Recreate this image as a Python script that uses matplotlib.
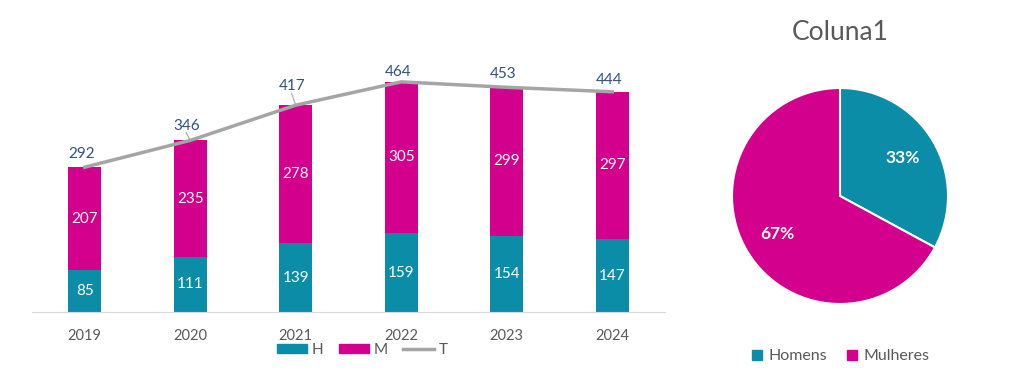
import matplotlib
matplotlib.use("Agg")
import matplotlib.pyplot as plt
from matplotlib.lines import Line2D
from matplotlib.patches import Patch

years = ["2019", "2020", "2021", "2022", "2023", "2024"]
homens = [85, 111, 139, 159, 154, 147]
mulheres = [207, 235, 278, 305, 299, 297]
totais = [292, 346, 417, 464, 453, 444]
pie_labels = ["Homens", "Mulheres"]
pie_title = "Coluna1"

TEAL = "#0B8CA7"
MAGENTA = "#D3008E"
GRAY_LINE = "#A5A5A5"
TEXT_GRAY = "#595959"
TOTAL_BLUE = "#2F5280"

plt.rcParams["font.family"] = ["Lato", "DejaVu Sans"]

W, H = 1024, 385
fig = plt.figure(figsize=(W / 100, H / 100), dpi=100)

# stacked bars + total line
ax = fig.add_axes([32 / W, 73 / H, 633 / W, 248 / H])
x = list(range(len(years)))
ax.bar(x, homens, width=0.31, color=TEAL, label="H")
ax.bar(x, mulheres, width=0.31, bottom=homens, color=MAGENTA, label="M")
ax.plot(x, totais, color=GRAY_LINE, lw=2.5, label="T", zorder=3)

# label offsets above the total line (data units), leader lines where far
total_offsets = [26, 30, 38, 20, 26, 24]
for i in x:
    ax.text(i, homens[i] / 2, str(homens[i]), ha="center", va="center",
            color="white", fontsize=11)
    ax.text(i, homens[i] + mulheres[i] / 2, str(mulheres[i]), ha="center",
            va="center", color="white", fontsize=11)
    ax.text(i - 0.03, totais[i] + total_offsets[i], str(totais[i]),
            ha="center", va="center", color=TOTAL_BLUE, fontsize=11)
for i in (1, 2):
    ax.plot([i, i - 0.04], [totais[i], totais[i] + total_offsets[i] - 14],
            color=GRAY_LINE, lw=0.8, zorder=2)

ax.set_xlim(-0.5, len(years) - 0.5)
ax.set_ylim(0, 500)
ax.set_xticks(x, labels=years)
ax.tick_params(axis="x", length=0, pad=12, labelsize=10.5, labelcolor=TEXT_GRAY)
ax.set_yticks([])
for side in ("top", "right", "left"):
    ax.spines[side].set_visible(False)
ax.spines["bottom"].set_color("#D9D9D9")

handles = [Patch(color=TEAL), Patch(color=MAGENTA),
           Line2D([0], [0], color=GRAY_LINE, lw=2.5)]
fig.legend(handles, ["H", "M", "T"], loc="center", ncol=3, frameon=False,
           bbox_to_anchor=(362 / W, 1 - 350 / H), fontsize=11,
           handlelength=2.0, handleheight=0.6, handletextpad=0.3,
           columnspacing=1.0, labelcolor=TEXT_GRAY)

# pie
pax = fig.add_axes([732 / W, 81 / H, 216 / W, 216 / H])
pie_values = [sum(homens), sum(mulheres)]
wedges, _, autotexts = pax.pie(
    pie_values, colors=[TEAL, MAGENTA], startangle=90, counterclock=False,
    autopct="%1.0f%%", pctdistance=0.68,
    wedgeprops=dict(edgecolor="white", linewidth=1.5),
    textprops=dict(color="white", fontsize=12.5, fontweight="bold"))
pax.set_xlim(-1, 1)
pax.set_ylim(-1, 1)

fig.text(840 / W, 1 - 33 / H, pie_title, ha="center", va="center",
         fontsize=19, color=TEXT_GRAY)

pie_handles = [Line2D([0], [0], marker="s", ls="", color=c, markersize=7)
               for c in (TEAL, MAGENTA)]
fig.legend(pie_handles, pie_labels, loc="center", ncol=2, frameon=False,
           bbox_to_anchor=(840 / W, 1 - 356 / H), fontsize=11.5,
           handlelength=0.8, handletextpad=0.3, columnspacing=1.2,
           labelcolor=TEXT_GRAY)

fig.savefig("out.png", dpi=100, facecolor="white")
